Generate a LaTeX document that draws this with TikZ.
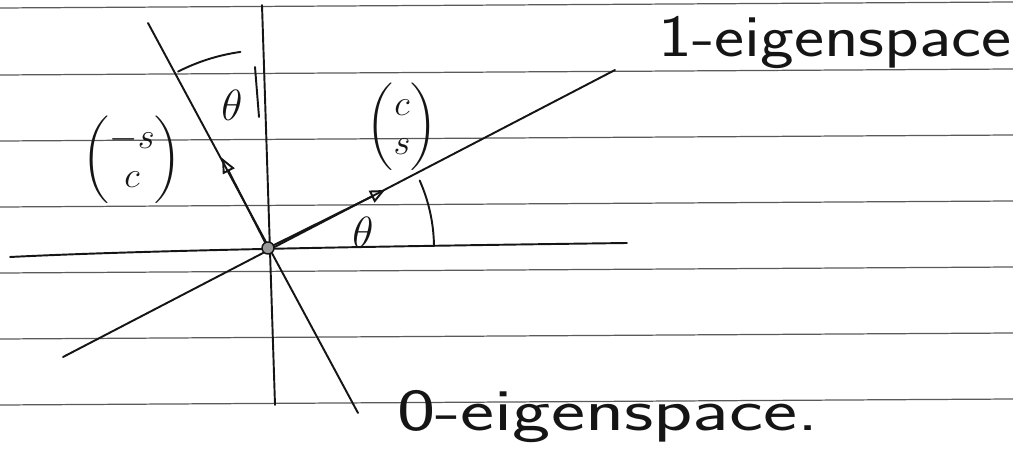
\documentclass[tikz,border=0pt]{standalone}
\usepackage{amsmath}
\usetikzlibrary{arrows.meta}
\definecolor{rulegray}{HTML}{5A5A5A}
\definecolor{ink}{HTML}{151515}
\definecolor{blob}{HTML}{9A9A9A}

\begin{document}
\begin{tikzpicture}[x=0.02cm, y=0.02cm, >={Triangle[open, length=3mm, width=2.6mm]},
  pen/.style={ink, line width=1.1pt, line cap=round},
  ruling/.style={rulegray, line width=0.7pt},
  hand/.style={text=ink, font=\sffamily\fontsize{34}{38}\selectfont},
  vec/.style={text=ink, font=\fontsize{20}{22}\selectfont},
  anglbl/.style={text=ink, font=\fontsize{24}{26}\selectfont}]

\useasboundingbox (0,0) rectangle (1013,453);

% Ruled paper
\foreach \ly in {445,378,312,246,180,114,48}
  \draw[ruling] (0,\ly) -- (1013,\ly+6);

% Points
\coordinate (O) at (268,205);
\coordinate (oneA) at (63,96);
\coordinate (oneB) at (615,383);
\coordinate (zeroA) at (148,430);
\coordinate (zeroB) at (358,40);
\coordinate (vtop) at (262,448);
\coordinate (vbot) at (275,48);
\coordinate (hleft) at (10,196);
\coordinate (hright) at (627,210);
\coordinate (cs) at (385,263);
\coordinate (sc) at (222,295);

% Axes
\draw[pen] (vtop) -- (vbot);
\draw[pen] (255,386) -- (259,336);
\draw[pen] (hleft) .. controls (150,203) and (400,207) .. (hright);

% Eigenspaces
\draw[pen] (oneA) -- (oneB);
\draw[pen] (zeroA) -- (zeroB);

% Eigenvectors
\draw[pen, ->] (O) -- (cs);
\draw[pen, ->] (O) -- (sc);
\filldraw[draw=ink, fill=blob, line width=0.8pt] (O) circle (6);

% Angles
\draw[pen] ([shift={(98:198)}]O) arc[start angle=98, end angle=117, radius=198];
\draw[pen] ([shift={(1:166)}]O) arc[start angle=1, end angle=24, radius=166];
\node[anglbl] (thTop) at (232,348) {$\theta$};
\node[anglbl] (thRight) at (363,221) {$\theta$};

% Labels
\node[vec] (csLbl) at (402,326) {$\begin{pmatrix} c\\ s \end{pmatrix}$};
\node[vec] (scLbl) at (132,293) {$\begin{pmatrix} -s\\ c \end{pmatrix}$};
\node[hand, xscale=1.2] (oneLbl) at (835,410) {1-eigenspace};
\node[hand, xscale=1.36] (zeroLbl) at (608,36) {0-eigenspace.};

\end{tikzpicture}
\end{document}
